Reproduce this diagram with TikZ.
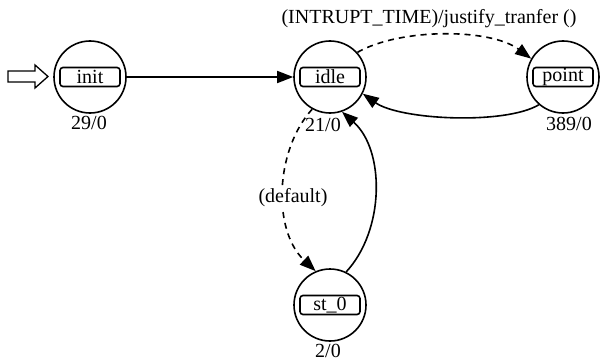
\documentclass[tikz,border=0pt]{standalone}
\usepackage{fontspec}
\setmainfont{Liberation Serif}
\usetikzlibrary{arrows.meta}
\begin{document}
\begin{tikzpicture}[x=1pt,y=-1pt,
  every node/.style={font=\fontsize{20}{24}\selectfont},
  state/.style={circle,draw,line width=1.6pt,minimum size=72pt,inner sep=0pt},
  namebox/.style={draw,line width=1.6pt,rounded corners=3pt,minimum width=60pt,minimum height=19pt,inner sep=0pt},
  count/.style={anchor=base,inner sep=0pt},
  trans/.style={line width=1.6pt,-{Triangle[length=16pt,width=12pt]}},
  guard/.style={trans,dash pattern=on 6pt off 5pt},
  elabel/.style={inner sep=1pt}]
\useasboundingbox (0,0) rectangle (601,361);

% states
\node[state] (init) at (90,77) {};
\node[namebox] (initname) at (init) {init};
\node[count] (initcount) at (89,129) {29/0};

\node[state] (idle) at (330,77) {};
\node[namebox] (idlename) at (idle) {idle};
\node[count] (idlecount) at (323,131) {21/0};

\node[state] (point) at (563,77) {};
\node[namebox] (pointname) at (point) {point};
\node[count] (pointcount) at (569,130) {389/0};

\node[state] (st0) at (330,305) {};
\node[namebox] (st0name) at (st0) {st\_0};
\node[count] (st0count) at (328,357) {2/0};

% initial-state marker
\draw[line width=1.3pt,fill=white] (8,71) -- (35,71) -- (35,65) -- (48,76.5)
  -- (35,88) -- (35,82) -- (8,82) -- cycle;

% transitions
\draw[trans] (init) -- (idle);
\draw[guard] (idle.42) .. controls (400,28) and (490,28) .. (point.150);
\draw[trans] (point.229) .. controls (505,125) and (400,120) .. (idle.-27);
\draw[guard] (idle.-119) .. controls (275,150) and (272,230) .. (st0.113);
\draw[trans] (st0.64) .. controls (385,230) and (385,150) .. (idle.-71);

% transition labels
\node[elabel] (toplabel) at (429,19) {(INTRUPT\_TIME)/justify\_tranfer ()};
\node[elabel,fill=white] (deflabel) at (293,198) {(default)};
\end{tikzpicture}
\end{document}
